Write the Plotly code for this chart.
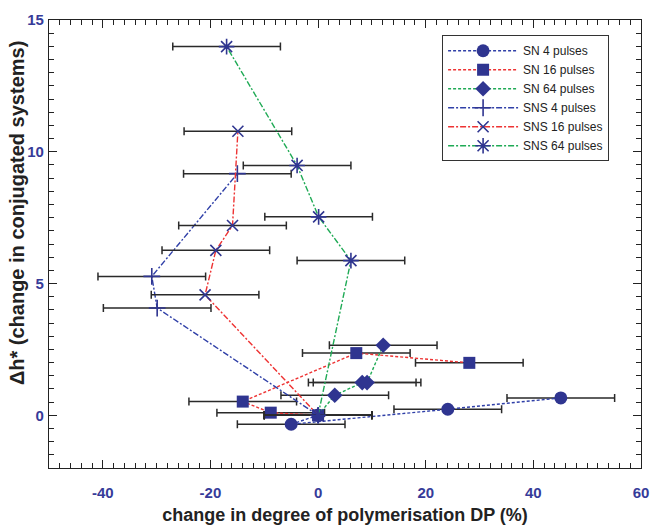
import plotly.graph_objects as go

# ---- data ----
sn4_x = [0, -5.0, 24.1, 45.1]
sn4_y = [0, -0.34, 0.23, 0.66]
sn4_err = [10, 10, 10, 10]

sn16_x = [0, -8.8, -14.0, 7.1, 28.1]
sn16_y = [0, 0.10, 0.52, 2.36, 1.99]
sn16_err = [10, 10, 10, 10, 10]

sn64_x = [0, 3.1, 8.2, 9.1, 12.1]
sn64_y = [0, 0.76, 1.24, 1.24, 2.66]
sn64_err = [10, 10, 10, 10, 10]

sns4_x = [0, -29.9, -30.9, -15.0]
sns4_y = [0, 4.07, 5.27, 9.17]
sns4_err = [10, 10, 10, 10]

sns16_x = [0, -21.0, -19.0, -15.9, -14.9]
sns16_y = [0, 4.57, 6.26, 7.20, 10.78]
sns16_err = [10, 10, 10, 10, 10]

sns64_x = [0, 6.1, 0.1, -3.9, -17.0]
sns64_y = [0, 5.87, 7.53, 9.48, 13.99]
sns64_err = [10, 10, 10, 10, 10]

x_ticks = [-40, -20, 0, 20, 40, 60]
y_ticks = [0, 5, 10, 15]
x_title = "change in degree of polymerisation DP (%)"
y_title = "Δh* (change in conjugated systems)"

# ---- styles ----
MK = "#2f3590"
BLUE = "#3040a8"
RED = "#ee3333"
GREEN = "#1faa55"
DOT = "3px,2px"
DASHDOT = "6px,2px,2px,2px"

series = [
    ("SN 4 pulses", sn4_x, sn4_y, sn4_err, BLUE, DOT, "circle", 13, 0),
    ("SN 16 pulses", sn16_x, sn16_y, sn16_err, RED, DOT, "square", 12, 0),
    ("SN 64 pulses", sn64_x, sn64_y, sn64_err, GREEN, DOT, "diamond", 12, 0),
    ("SNS 4 pulses", sns4_x, sns4_y, sns4_err, BLUE, DASHDOT, "cross-thin-open", 12, 1.6),
    ("SNS 16 pulses", sns16_x, sns16_y, sns16_err, RED, DASHDOT, "x-thin-open", 11, 1.6),
    ("SNS 64 pulses", sns64_x, sns64_y, sns64_err, GREEN, DASHDOT, "asterisk-open", 13, 1.6),
]

fig = go.Figure()
for name, xs, ys, er, col, dash, sym, sz, lw in series:
    fig.add_trace(go.Scatter(
        x=xs, y=ys, name=name, mode="lines+markers",
        line=dict(color=col, width=1.4, dash=dash),
        marker=dict(symbol=sym, size=sz, color=MK,
                    line=dict(color=MK, width=lw)),
        error_x=dict(type="data", array=er, visible=True,
                     color="#2a2a2a", thickness=1.5, width=4),
    ))

TICKFONT = dict(family="Liberation Sans, Arial", size=15, color="#363b99", weight="bold")
TITLEFONT = dict(family="Liberation Sans, Arial", size=18, color="#222222", weight="bold")
YTITLEFONT = dict(family="Liberation Sans, Arial", size=20, color="#222222", weight="bold")

fig.update_xaxes(
    range=[-50, 60], tickvals=x_ticks, ticktext=[str(v) for v in x_ticks],
    ticks="inside", ticklen=8, tickwidth=1.2, tickcolor="#222",
    minor=dict(dtick=2, tick0=0, ticks="inside", ticklen=5, tickwidth=1.2, tickcolor="#222"),
    showline=True, linecolor="#222", linewidth=1.3, mirror="allticks",
    showgrid=False, zeroline=False, tickfont=TICKFONT, ticklabelstandoff=11,
    automargin=False,
    title=dict(text=x_title, font=TITLEFONT, standoff=8),
)
fig.update_yaxes(
    range=[-2, 15], tickvals=y_ticks, ticktext=[str(v) for v in y_ticks],
    ticks="inside", ticklen=8, tickwidth=1.2, tickcolor="#222",
    minor=dict(dtick=0.5, tick0=0, ticks="inside", ticklen=5, tickwidth=1.2, tickcolor="#222"),
    showline=True, linecolor="#222", linewidth=1.3, mirror="allticks",
    showgrid=False, zeroline=False, tickfont=TICKFONT, ticklabelstandoff=1,
    automargin=False,
)

fig.add_annotation(
    text=y_title, xref="paper", yref="paper",
    x=-0.054, y=0.569, xanchor="center", yanchor="middle",
    textangle=-90, showarrow=False, font=YTITLEFONT,
)

fig.update_layout(
    width=653, height=526,
    margin=dict(l=49, r=12, t=20, b=58),
    plot_bgcolor="white", paper_bgcolor="white",
    legend=dict(
        x=0.664, y=0.966, xanchor="left", yanchor="top",
        bgcolor="white", bordercolor="#333", borderwidth=1,
        font=dict(family="Liberation Sans, Arial", size=12, color="#222"),
        itemwidth=70, tracegroupgap=0,
    ),
)

fig.write_html("out.html")
